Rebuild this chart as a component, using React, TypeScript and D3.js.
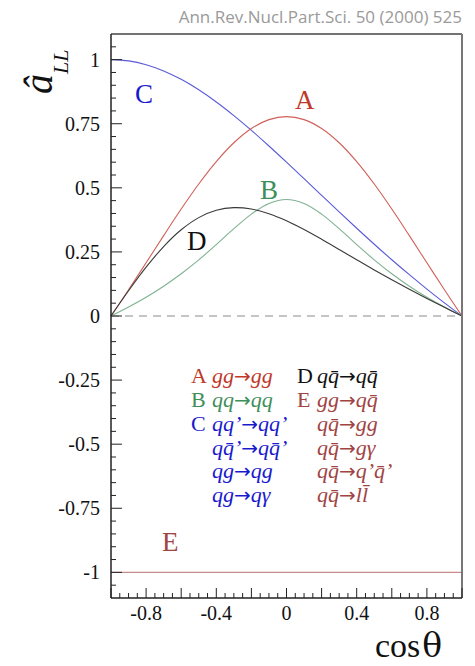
import React from "react";
import * as d3 from "d3";

// Partonic double-spin asymmetries versus cos(theta)
const cosTheta = [-1, -0.9, -0.8, -0.7, -0.6, -0.5, -0.4, -0.3, -0.2, -0.1, 0, 0.1, 0.2, 0.3, 0.4, 0.5, 0.6, 0.7, 0.8, 0.9, 1];
const curveA = [0, 0.1022, 0.2076, 0.3136, 0.4172, 0.5148, 0.6023, 0.6757, 0.7313, 0.766, 0.7778, 0.766, 0.7313, 0.6757, 0.6023, 0.5148, 0.4172, 0.3136, 0.2076, 0.1022, 0];
const curveB = [0, 0.0349, 0.0733, 0.1163, 0.1647, 0.219, 0.2787, 0.3405, 0.3975, 0.4391, 0.4545, 0.4391, 0.3975, 0.3405, 0.2787, 0.219, 0.1647, 0.1163, 0.0733, 0.0349, 0];
const curveC = [1, 0.995, 0.9802, 0.956, 0.9231, 0.8824, 0.8349, 0.7817, 0.7241, 0.6632, 0.6, 0.5355, 0.4706, 0.406, 0.3423, 0.28, 0.2195, 0.1611, 0.105, 0.0513, 0];
const curveD = [0, 0.0984, 0.1903, 0.271, 0.3364, 0.3838, 0.4122, 0.4226, 0.4172, 0.3991, 0.3714, 0.3373, 0.2994, 0.2596, 0.2194, 0.1797, 0.1412, 0.1041, 0.0683, 0.0337, 0];
const cosThetaE = [-1, 1];
const curveE = [-1, -1];

const yTickLabels = [1, 0.75, 0.5, 0.25, 0, -0.25, -0.5, -0.75, -1];
const xTickLabels = [-0.8, -0.4, 0, 0.4, 0.8];

// Process list: [initial state, final state]
const listA = [["gg", "gg"]];
const listB = [["qq", "qq"]];
const listC = [["qq’", "qq’"], ["qq̄’", "qq̄’"], ["qg", "qg"], ["qg", "qγ"]];
const listD = [["qq̄", "qq̄"]];
const listE = [["gg", "qq̄"], ["qq̄", "gg"], ["qq̄", "gγ"], ["qq̄", "q’q̄’"], ["qq̄", "ll̄"]];

const W = 475;
const H = 666;
const left = 111;
const right = 462;
const top = 34;
const bottom = 598;

const serif = "'Liberation Serif', 'Times New Roman', serif";

const COL = {
  A: "#c0392b",
  B: "#3f8f5a",
  C: "#1a1acd",
  D: "#111111",
  E: "#a04444",
};
const LINE = {
  A: "#d06058",
  B: "#7fb292",
  C: "#5a5ad8",
  D: "#3a3a3a",
  E: "#c88c8c",
};

function fmt(v: number) {
  if (v === 0) return "0";
  return String(v);
}

function Process({ from, to }: { from: string; to: string }) {
  return (
    <>
      <tspan fontStyle="italic">{from}</tspan>
      <tspan fontFamily="'DejaVu Sans', sans-serif" fontSize={20}>
        →
      </tspan>
      <tspan fontStyle="italic">{to}</tspan>
    </>
  );
}

export default function App() {
  const x = d3.scaleLinear().domain([-1, 1]).range([left, right]);
  const y = d3.scaleLinear().domain([-1.1, 1.1]).range([bottom, top]);

  const line = d3
    .line<[number, number]>()
    .x((d) => x(d[0]))
    .y((d) => y(d[1]))
    .curve(d3.curveCatmullRom);

  const series = [
    { key: "C", vals: curveC },
    { key: "A", vals: curveA },
    { key: "B", vals: curveB },
    { key: "D", vals: curveD },
  ];

  const yMinor = d3.range(-21, 22).map((i) => i * 0.05);
  const xMinor = d3.range(-20, 21).map((i) => i * 0.05);

  const isMult = (v: number, m: number) => Math.abs(v / m - Math.round(v / m)) < 1e-6;

  const rows = [383, 407, 431, 455, 478, 502];

  return (
    <svg
      width={W}
      height={H}
      style={{ position: "absolute", left: 0, top: 0, background: "#fff" }}
      fontFamily={serif}
    >
      <rect x={0} y={0} width={W} height={H} fill="#fff" />
      <text
        x={462}
        y={23}
        textAnchor="end"
        fontFamily="'Open Sans', sans-serif"
        fontSize={17}
        fill="#9a9a9a"
      >
        Ann.Rev.Nucl.Part.Sci. 50 (2000) 525
      </text>

      {/* zero line */}
      <line
        x1={x(-1)}
        x2={x(1)}
        y1={y(0)}
        y2={y(0)}
        stroke="#8a8a8a"
        strokeWidth={1.2}
        strokeDasharray="8 6"
      />

      {/* curves */}
      <path
        d={line(cosThetaE.map((c, i) => [c, curveE[i]] as [number, number])) || ""}
        fill="none"
        stroke={LINE.E}
        strokeWidth={1.1}
      />
      {series.map((s) => (
        <path
          key={s.key}
          d={line(cosTheta.map((c, i) => [c, s.vals[i]] as [number, number])) || ""}
          fill="none"
          stroke={(LINE as any)[s.key]}
          strokeWidth={1.1}
        />
      ))}

      {/* frame */}
      <line x1={left} x2={right} y1={top} y2={top} stroke="#444" strokeWidth={1.3} />
      <line x1={right} x2={right} y1={top} y2={bottom} stroke="#777" strokeWidth={2} />
      <line x1={left} x2={left} y1={top} y2={bottom} stroke="#222" strokeWidth={1.5} />
      <line x1={left} x2={right} y1={bottom} y2={bottom} stroke="#222" strokeWidth={1.5} />

      {/* y ticks */}
      {yMinor.map((v, i) => {
        const major = isMult(v, 0.25);
        return (
          <line
            key={"yt" + i}
            x1={left}
            x2={left + (major ? 11 : 5)}
            y1={y(v)}
            y2={y(v)}
            stroke="#222"
            strokeWidth={1}
          />
        );
      })}
      {yTickLabels.map((v) => (
        <text
          key={"yl" + v}
          x={100}
          y={y(v)}
          dy="0.35em"
          textAnchor="end"
          fontSize={20}
          fill="#111"
        >
          {fmt(v)}
        </text>
      ))}

      {/* x ticks */}
      {xMinor.map((v, i) => {
        const major = isMult(v, 0.2);
        return (
          <line
            key={"xt" + i}
            x1={x(v)}
            x2={x(v)}
            y1={bottom}
            y2={bottom - (major ? 10 : 5)}
            stroke="#222"
            strokeWidth={1}
          />
        );
      })}
      {xTickLabels.map((v) => (
        <text
          key={"xl" + v}
          x={x(v)}
          y={620}
          textAnchor="middle"
          fontSize={20}
          fill="#111"
        >
          {fmt(v)}
        </text>
      ))}

      {/* axis titles */}
      <text x={375} y={657} fontSize={34} fill="#111">
        cos
        <tspan fontFamily="'DejaVu Serif', serif" fontSize={33} dx={2}>
          θ
        </tspan>
      </text>
      <text transform="translate(52,94) rotate(-90)" fill="#111">
        <tspan fontSize={40} fontStyle="italic">
          â
        </tspan>
        <tspan fontSize={22} fontStyle="italic" dy={16}>
          LL
        </tspan>
      </text>

      {/* curve letters */}
      <text x={135} y={103} fontSize={27} fill={COL.C}>C</text>
      <text x={295} y={109} fontSize={27} fill={COL.A}>A</text>
      <text x={260} y={199} fontSize={27} fill={COL.B}>B</text>
      <text x={187} y={250} fontSize={27} fill={COL.D}>D</text>
      <text x={162} y={551} fontSize={27} fill={COL.E}>E</text>

      {/* process list */}
      <g fontSize={22}>
        <text x={191} y={rows[0]} fill={COL.A}>A</text>
        <text x={191} y={rows[1]} fill={COL.B}>B</text>
        <text x={191} y={rows[2]} fill={COL.C}>C</text>
        <text x={297} y={rows[0]} fill={COL.D}>D</text>
        <text x={297} y={rows[1]} fill={COL.E}>E</text>

        {listA.map((p, i) => (
          <text key={"a" + i} x={212} y={rows[i]} fill={COL.A}>
            <Process from={p[0]} to={p[1]} />
          </text>
        ))}
        {listB.map((p, i) => (
          <text key={"b" + i} x={212} y={rows[1 + i]} fill={COL.B}>
            <Process from={p[0]} to={p[1]} />
          </text>
        ))}
        {listC.map((p, i) => (
          <text key={"c" + i} x={212} y={rows[2 + i]} fill={COL.C}>
            <Process from={p[0]} to={p[1]} />
          </text>
        ))}
        {listD.map((p, i) => (
          <text key={"d" + i} x={317} y={rows[i]} fill={COL.D}>
            <Process from={p[0]} to={p[1]} />
          </text>
        ))}
        {listE.map((p, i) => (
          <text key={"e" + i} x={317} y={rows[1 + i]} fill={COL.E}>
            <Process from={p[0]} to={p[1]} />
          </text>
        ))}
      </g>
    </svg>
  );
}
